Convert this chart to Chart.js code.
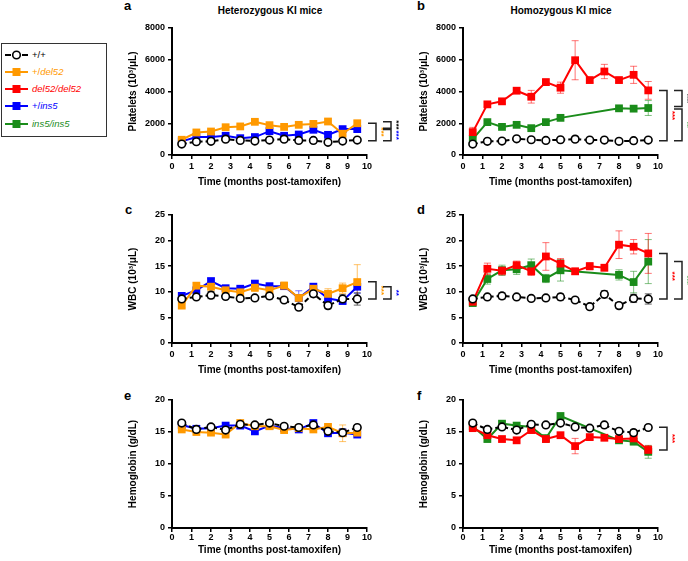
<!DOCTYPE html>
<html>
<head>
<meta charset="utf-8">
<script src="https://cdn.jsdelivr.net/npm/chart.js@4.4.1/dist/chart.umd.min.js"></script>
<style>
  body { margin: 0; width: 688px; height: 561px; position: relative; background: #fff; overflow: hidden;
         font-family: "Liberation Sans", Arial, sans-serif; }
  canvas { position: absolute; }
  .letter { position: absolute; font-weight: bold; font-size: 13px; line-height: 13px; }
  .title { position: absolute; font-weight: bold; font-size: 10px; line-height: 12px; transform: translateX(-50%); white-space: nowrap; }
  #legend { position: absolute; left: 1px; top: 43px; width: 106px; height: 94px; border: 1.5px solid #333; box-sizing: border-box; }
  #legend .it { position: absolute; left: 2px; height: 12px; font-size: 9.5px; line-height: 12px; white-space: nowrap; }
  #legend svg { position: absolute; left: 0; top: 1px; }
  #legend span { position: absolute; left: 28px; top: 0; }
</style>
</head>
<body>

<div class="letter" style="left:124px;top:-1px">a</div>
<div class="letter" style="left:417px;top:-1px">b</div>
<div class="letter" style="left:125px;top:203px">c</div>
<div class="letter" style="left:417px;top:203px">d</div>
<div class="letter" style="left:124px;top:389px">e</div>
<div class="letter" style="left:417px;top:389px">f</div>
<div class="title" style="left:270px;top:5px">Heterozygous KI mice</div>
<div class="title" style="left:561px;top:5px">Homozygous KI mice</div>

<div id="legend">
  <div class="it" style="top:5px">
    <svg width="26" height="10"><line x1="1" y1="5" x2="7" y2="5" stroke="#000" stroke-width="2"/><line x1="18" y1="5" x2="24" y2="5" stroke="#000" stroke-width="2"/><circle cx="12.5" cy="5" r="3.8" fill="#fff" stroke="#000" stroke-width="1.6"/></svg>
    <span style="color:#000">+/+</span></div>
  <div class="it" style="top:22px">
    <svg width="26" height="10"><line x1="1" y1="5" x2="24" y2="5" stroke="#ff9900" stroke-width="2"/><rect x="8.5" y="1" width="8" height="8" fill="#ff9900"/></svg>
    <span style="color:#ff9900">+/<i>del52</i></span></div>
  <div class="it" style="top:39px">
    <svg width="26" height="10"><line x1="1" y1="5" x2="24" y2="5" stroke="#ff0000" stroke-width="2"/><rect x="8.5" y="1" width="8" height="8" fill="#ff0000"/></svg>
    <span style="color:#ff0000"><i>del52/del52</i></span></div>
  <div class="it" style="top:56px">
    <svg width="26" height="10"><line x1="1" y1="5" x2="24" y2="5" stroke="#0000ff" stroke-width="2"/><rect x="8.5" y="1" width="8" height="8" fill="#0000ff"/></svg>
    <span style="color:#0000ff">+/<i>ins5</i></span></div>
  <div class="it" style="top:74px">
    <svg width="26" height="10"><line x1="1" y1="5" x2="24" y2="5" stroke="#1a8c1a" stroke-width="2"/><rect x="8.5" y="1" width="8" height="8" fill="#1a8c1a"/></svg>
    <span style="color:#1a8c1a"><i>ins5/ins5</i></span></div>
</div>

<canvas id="pa" width="278" height="170" style="left:127px;top:18px"></canvas>
<canvas id="pb" width="270" height="170" style="left:418px;top:18px"></canvas>
<canvas id="pc" width="278" height="171" style="left:127px;top:205px"></canvas>
<canvas id="pd" width="270" height="171" style="left:418px;top:205px"></canvas>
<canvas id="pe" width="278" height="166" style="left:127px;top:390px"></canvas>
<canvas id="pf" width="270" height="166" style="left:418px;top:390px"></canvas>

<script>
// time points (months post-tamoxifen)
const months = [0.5, 1.25, 2, 2.75, 3.5, 4.25, 5, 5.75, 6.5, 7.25, 8, 8.75, 9.5];
const xTicks = [0, 1, 2, 3, 4, 5, 6, 7, 8, 9, 10];

// a - platelets, heterozygous
const pltHetWt    = [690, 835, 860, 1000, 920, 880, 940, 1000, 920, 920, 800, 880, 940];
const pltHetWtErr = [40, 50, 50, 60, 50, 50, 50, 60, 50, 50, 50, 50, 60];
const pltHetDel   = [960, 1420, 1480, 1750, 1800, 2090, 1880, 1770, 1900, 1960, 2110, 1340, 2000];
const pltHetDelErr = [80, 120, 100, 120, 100, 130, 120, 100, 110, 120, 150, 250, 150];
const pltHetIns   = [860, 1130, 1130, 1210, 1060, 1130, 1500, 1210, 1290, 1590, 1270, 1630, 1630];
const pltHetInsErr = [60, 80, 80, 90, 80, 80, 100, 80, 90, 100, 90, 120, 120];

// b - platelets, homozygous
const pltHomWt    = [690, 860, 880, 1020, 960, 920, 960, 1000, 940, 940, 860, 900, 940];
const pltHomWtErr = [40, 50, 50, 60, 50, 50, 50, 60, 50, 50, 50, 50, 60];
const pltHomDel   = [1440, 3190, 3380, 4050, 3670, 4590, 4240, 5970, 4720, 5260, 4720, 5050, 4070];
const pltHomDelErr = [300, 150, 150, 150, 400, 200, 350, 1230, 150, 450, 150, 540, 560];
const pltHomIns   = [1000, 2070, 1770, 1900, 1690, 2070, 2340, null, null, null, 2940, 2920, 2960];
const pltHomInsErr = [100, 100, 100, 100, 80, 100, 100, null, null, null, 100, 120, 470];

// c - WBC, heterozygous
const wbcHetWt    = [8.6, 9.0, 9.35, 9.1, 8.7, 8.8, 9.2, 8.4, 7.0, 9.6, 7.3, 8.6, 8.6];
const wbcHetWtErr = [0.3, 0.3, 0.7, 0.3, 0.4, 0.3, 0.6, 0.3, 0.3, 0.6, 0.6, 0.8, 1.2];
const wbcHetDel   = [7.3, 11.2, 11.0, 10.3, 9.9, 10.8, 10.3, 11.2, 8.8, 10.6, 9.6, 10.7, 11.9];
const wbcHetDelErr = [0.4, 0.5, 0.6, 0.5, 0.6, 0.7, 0.6, 0.7, 0.6, 0.8, 1.0, 1.0, 3.4];
const wbcHetIns   = [9.2, 10.3, 12.1, 10.7, 10.6, 11.6, 11.1, 11.1, 8.8, 11.0, 8.7, 8.2, 11.0];
const wbcHetInsErr = [0.4, 0.5, 0.5, 0.4, 0.4, 0.5, 0.5, 0.5, 1.4, 0.6, 0.5, 0.6, 1.3];

// d - WBC, homozygous
const wbcHomWt    = [8.6, 9.0, 9.2, 9.0, 8.7, 8.8, 9.0, 8.4, 7.1, 9.5, 7.3, 8.7, 8.6];
const wbcHomWtErr = [0.3, 0.3, 0.6, 0.3, 0.3, 0.3, 0.6, 0.3, 0.3, 0.7, 0.5, 0.8, 1.0];
const wbcHomDel   = [8.05, 14.5, 14.1, 15.2, 14.0, 16.9, 15.5, 14.0, 15.0, 14.7, 19.2, 18.8, 17.5];
const wbcHomDelErr = [0.4, 1.1, 0.8, 0.8, 0.8, 2.7, 1.0, 0.6, 0.7, 0.6, 2.7, 1.4, 3.9];
const wbcHomIns   = [7.8, 12.5, 14.2, 14.4, 15.2, 12.6, 14.2, null, null, null, 13.3, 11.9, 15.9];
const wbcHomInsErr = [0.4, 1.0, 1.0, 1.0, 1.2, 0.8, 2.1, null, null, null, 1.0, 2.1, 4.3];

// e - hemoglobin, heterozygous
const hbHetWt    = [16.4, 15.4, 15.8, 15.3, 16.2, 16.1, 16.4, 15.9, 15.7, 16.1, 15.1, 14.9, 15.7];
const hbHetWtErr = [0.2, 0.2, 0.2, 0.3, 0.2, 0.2, 0.2, 0.2, 0.2, 0.2, 0.3, 0.6, 0.2];
const hbHetDel   = [15.4, 15.0, 14.9, 14.6, 16.4, 15.9, 15.9, 15.3, 15.6, 15.4, 15.8, 14.8, 14.9];
const hbHetDelErr = [0.3, 0.3, 0.3, 0.3, 0.3, 0.3, 0.3, 0.3, 0.3, 0.3, 0.3, 1.3, 0.5];
const hbHetIns   = [16.1, 15.5, 15.6, 16.0, 16.0, 15.1, 16.0, 15.6, 15.4, 16.4, 14.8, 14.9, 14.6];
const hbHetInsErr = [0.3, 0.3, 0.3, 0.3, 0.3, 0.3, 0.3, 0.3, 0.3, 0.3, 0.3, 0.3, 0.4];

// f - hemoglobin, homozygous
const hbHomWt    = [16.4, 15.4, 15.8, 15.3, 16.2, 16.1, 16.4, 15.8, 15.6, 16.1, 15.1, 14.9, 15.7];
const hbHomWtErr = [0.2, 0.2, 0.2, 0.3, 0.2, 0.2, 0.2, 0.2, 0.2, 0.2, 0.3, 0.5, 0.2];
const hbHomDel   = [15.6, 14.5, 13.9, 13.7, 15.3, 13.9, 14.5, 12.8, 14.2, 14.1, 13.9, 14.0, 12.2];
const hbHomDelErr = [0.3, 0.3, 0.3, 0.3, 0.3, 0.4, 0.3, 1.2, 0.3, 0.3, 0.3, 0.3, 0.7];
const hbHomIns   = [15.9, 13.9, 16.3, 16.0, 15.8, 14.0, 17.5, null, null, null, 13.7, 13.5, 11.9];
const hbHomInsErr = [0.3, 0.4, 0.3, 0.3, 0.3, 0.6, 0.3, null, null, null, 0.4, 0.5, 1.0];

// significance brackets: [column, from, to, stars, group]
const sigA = [[0, 2000, 900, '***', 'del'], [1, 2100, 1680, '***', 'wt'], [1, 1600, 900, '***', 'ins']];
const sigB = [[0, 4070, 900, '***', 'hdel'], [1, 4070, 3050, '***', 'wt'], [1, 2900, 900, '**', 'hins']];
const sigC = [[0, 11.95, 8.6, '***', 'del'], [1, 11.0, 8.6, '**', 'ins']];
const sigD = [[0, 17.5, 8.6, '***', 'hdel'], [1, 15.9, 8.6, '***', 'hins']];
const sigF = [[0, 15.75, 12.2, '***', 'hdel']];

const colors = { wt: '#000000', del: '#ff9900', ins: '#0000ff', hdel: '#ff0000', hins: '#1a8c1a' };
const errColors = { wt: 'rgba(0,0,0,0.6)', del: 'rgba(255,153,0,0.6)', ins: 'rgba(0,0,255,0.55)',
                    hdel: 'rgba(255,0,0,0.55)', hins: 'rgba(26,140,26,0.55)' };

Chart.defaults.font.family = '"Liberation Sans", Arial, sans-serif';
Chart.defaults.color = '#000';

function series(group, values, errors) {
  const wt = group === 'wt';
  return {
    data: months.map((m, i) => ({ x: m, y: values[i] })),
    errors: errors,
    errColor: errColors[group],
    borderColor: colors[group],
    backgroundColor: wt ? '#fff' : colors[group],
    borderWidth: 2,
    borderDash: wt ? [5, 3] : [],
    pointStyle: wt ? 'circle' : 'rect',
    pointRadius: wt ? 3.8 : 5.5,
    pointBorderWidth: wt ? 1.6 : 0,
    spanGaps: true
  };
}

// error bars, drawn under the markers
const errorBars = {
  id: 'errorBars',
  beforeDatasetsDraw(chart) {
    const { ctx, scales: { x, y } } = chart;
    chart.data.datasets.slice().reverse().forEach(ds => {
      ctx.save();
      ctx.strokeStyle = ds.errColor;
      ctx.lineWidth = 1;
      ds.data.forEach((p, i) => {
        const e = ds.errors[i];
        if (p.y == null || !e) return;
        const px = x.getPixelForValue(p.x);
        const top = y.getPixelForValue(p.y + e), bot = y.getPixelForValue(p.y - e);
        ctx.beginPath();
        ctx.moveTo(px, top); ctx.lineTo(px, bot);
        ctx.moveTo(px - 3.5, top); ctx.lineTo(px + 3.5, top);
        ctx.moveTo(px - 3.5, bot); ctx.lineTo(px + 3.5, bot);
        ctx.stroke();
      });
      ctx.restore();
    });
  }
};

const brackets = {
  id: 'brackets',
  afterDraw(chart, args, opts) {
    const { ctx, chartArea, scales: { y } } = chart;
    (opts.items || []).forEach(([col, from, to, stars, group]) => {
      const x1 = chartArea.right + 9 + col * 15, x0 = x1 - 8;
      const y1 = y.getPixelForValue(from), y2 = y.getPixelForValue(to);
      ctx.save();
      ctx.strokeStyle = '#222';
      ctx.lineWidth = 1.5;
      ctx.beginPath();
      ctx.moveTo(x0, y1); ctx.lineTo(x1, y1); ctx.lineTo(x1, y2); ctx.lineTo(x0, y2);
      ctx.stroke();
      ctx.translate(x1 + 5, (y1 + y2) / 2);
      ctx.rotate(Math.PI / 2);
      ctx.fillStyle = colors[group];
      ctx.font = 'bold 8px "Liberation Sans", Arial, sans-serif';
      ctx.textAlign = 'center';
      ctx.textBaseline = 'middle';
      ctx.fillText(stars, 0, 0);
      ctx.restore();
    });
  }
};

function makePanel(id, sets, yMax, yStep, yTitle, sig, padR, xH, tickPad) {
  new Chart(document.getElementById(id), {
    type: 'line',
    data: { datasets: sets },
    plugins: [errorBars, brackets],
    options: {
      responsive: false,
      animation: false,
      events: [],
      layout: { padding: { top: 10, right: padR, left: 0, bottom: 0 } },
      plugins: { legend: { display: false }, tooltip: { enabled: false }, brackets: { items: sig } },
      scales: {
        x: {
          type: 'linear', min: 0, max: 10,
          afterBuildTicks: s => { s.ticks = xTicks.map(v => ({ value: v })); },
          ticks: { font: { size: 9, weight: 'bold' }, padding: tickPad, maxRotation: 0, callback: v => String(v) },
          grid: { drawOnChartArea: false, tickLength: 4, color: '#000', lineWidth: 1.5 },
          border: { color: '#000', width: 2 },
          title: { display: true, text: 'Time (months post-tamoxifen)', font: { size: 10, weight: 'bold' }, padding: 0 },
          afterFit: s => { s.height = xH; }
        },
        y: {
          min: 0, max: yMax,
          ticks: { stepSize: yStep, font: { size: 9, weight: 'bold' }, padding: 3, callback: v => String(v) },
          grid: { drawOnChartArea: false, tickLength: 4, color: '#000', lineWidth: 1.5 },
          border: { color: '#000', width: 2 },
          title: { display: true, text: yTitle, font: { size: 10, weight: 'bold' }, padding: 0 },
          afterFit: s => { s.width = 45; }
        }
      }
    }
  });
}

makePanel('pa', [series('wt', pltHetWt, pltHetWtErr), series('del', pltHetDel, pltHetDelErr), series('ins', pltHetIns, pltHetInsErr)],
  8000, 2000, 'Platelets (10³/μL)', sigA, 38, 33, 2);
makePanel('pb', [series('wt', pltHomWt, pltHomWtErr), series('hdel', pltHomDel, pltHomDelErr), series('hins', pltHomIns, pltHomInsErr)],
  8000, 2000, 'Platelets (10³/μL)', sigB, 30, 33, 2);
makePanel('pc', [series('wt', wbcHetWt, wbcHetWtErr), series('del', wbcHetDel, wbcHetDelErr), series('ins', wbcHetIns, wbcHetInsErr)],
  25, 5, 'WBC (10³/μL)', sigC, 38, 33, 2);
makePanel('pd', [series('wt', wbcHomWt, wbcHomWtErr), series('hdel', wbcHomDel, wbcHomDelErr), series('hins', wbcHomIns, wbcHomInsErr)],
  25, 5, 'WBC (10³/μL)', sigD, 30, 33, 2);
makePanel('pe', [series('wt', hbHetWt, hbHetWtErr), series('del', hbHetDel, hbHetDelErr), series('ins', hbHetIns, hbHetInsErr)],
  20, 5, 'Hemoglobin (g/dL)', [], 38, 28, 0);
makePanel('pf', [series('wt', hbHomWt, hbHomWtErr), series('hdel', hbHomDel, hbHomDelErr), series('hins', hbHomIns, hbHomInsErr)],
  20, 5, 'Hemoglobin (g/dL)', sigF, 30, 28, 0);
</script>
</body>
</html>
